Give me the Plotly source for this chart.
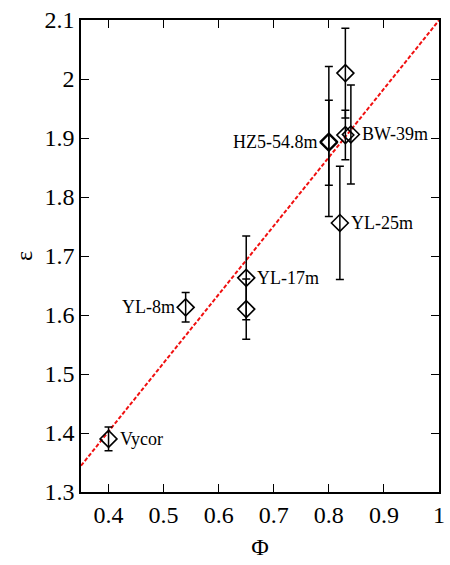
import plotly.graph_objects as go
import numpy as np

# data
labels = ["Vycor", "YL-8m", "YL-17m", "", "YL-25m", "HZ5-54.8m", "", "", "", "BW-39m"]
label_side = ["right", "left", "right", "", "right", "left", "", "", "", "right"]
phi = [0.40, 0.54, 0.65, 0.65, 0.82, 0.80, 0.80, 0.83, 0.83, 0.84]
eps = [1.390, 1.613, 1.663, 1.610, 1.756, 1.894, 1.892, 2.010, 1.905, 1.906]
err = [0.020, 0.025, 0.071, 0.051, 0.096, 0.127, 0.072, 0.076, 0.042, 0.084]

x_ticks = [0.4, 0.5, 0.6, 0.7, 0.8, 0.9, 1.0]
x_tick_text = ["0.4", "0.5", "0.6", "0.7", "0.8", "0.9", "1"]
y_ticks = [1.3, 1.4, 1.5, 1.6, 1.7, 1.8, 1.9, 2.0, 2.1]
y_tick_text = ["1.3", "1.4", "1.5", "1.6", "1.7", "1.8", "1.9", "2", "2.1"]

fit_slope = 1.1615
fit_intercept = 0.938
fit_x = [0.35, 1.0]

serif = "'Liberation Serif', 'Times New Roman', Times, serif"

fig = go.Figure()

fx = np.array(fit_x)
fig.add_trace(go.Scatter(
    x=fx, y=fit_intercept + fit_slope * fx, mode="lines",
    line=dict(color="#f01010", width=2, dash="4px,2px"),
    showlegend=False, hoverinfo="skip"))

fig.add_trace(go.Scatter(
    x=phi, y=eps, mode="markers",
    marker=dict(symbol="diamond-open", size=13, color="black",
                line=dict(color="black", width=1.6)),
    error_y=dict(type="data", array=err, visible=True, color="black",
                 thickness=1.5, width=4),
    showlegend=False))

for lab, side, x, y in zip(labels, label_side, phi, eps):
    if not lab:
        continue
    fig.add_annotation(
        x=x, y=y, xref="x", yref="y", text=lab, showarrow=False,
        xanchor="left" if side == "right" else "right", yanchor="middle",
        xshift=9 if side == "right" else -9,
        font=dict(family=serif, size=18, color="black"))

fig.update_xaxes(
    range=[0.35, 1.0], tickmode="array", tickvals=x_ticks, ticktext=x_tick_text,
    ticks="inside", ticklen=8, ticklabeloverflow="allow",
    tickwidth=1.3, tickcolor="black", showline=True, linecolor="black",
    linewidth=1.6, mirror="allticks", showgrid=False, zeroline=False,
    tickfont=dict(family=serif, size=24, color="black"),
    title=dict(text="Φ", font=dict(family=serif, size=24, color="black"),
               standoff=12))
fig.update_yaxes(
    range=[1.3, 2.1], tickmode="array", tickvals=y_ticks, ticktext=y_tick_text,
    ticks="inside", ticklen=8, ticklabeloverflow="allow",
    tickwidth=1.3, tickcolor="black", showline=True, linecolor="black",
    linewidth=1.6, mirror="allticks", showgrid=False, zeroline=False,
    tickfont=dict(family=serif, size=24, color="black"),
    title=dict(text="ε", font=dict(family=serif, size=24, color="black"),
               standoff=5))

fig.update_layout(
    width=450, height=565, autosize=False,
    margin=dict(l=81, r=5, t=20, b=73),
    plot_bgcolor="white", paper_bgcolor="white")

fig.write_html("out.html")
